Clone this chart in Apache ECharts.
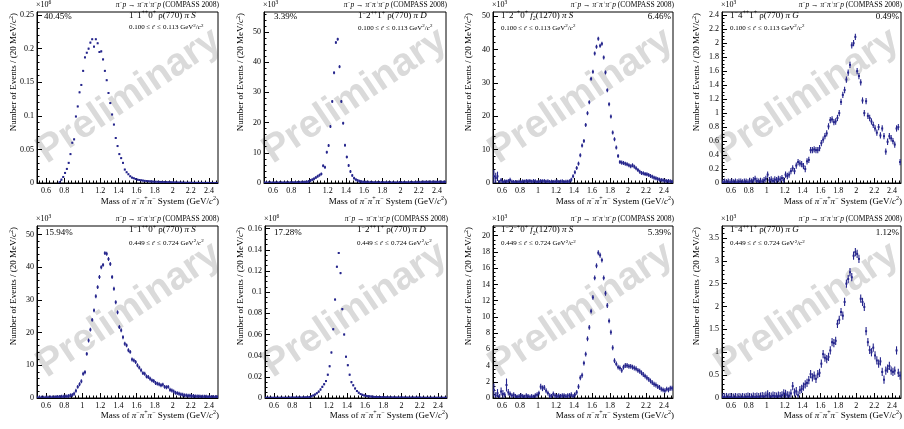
<!DOCTYPE html>
<html>
<head>
<meta charset="utf-8">
<script src="https://cdn.jsdelivr.net/npm/echarts@6/dist/echarts.min.js"></script>
<style>
  html, body { margin: 0; padding: 0; background: #fff; }
  #chart { width: 904px; height: 429px; }
</style>
</head>
<body>
<div id="chart"></div>
<script>
// 3-pion invariant mass spectra, 20 MeV bins from 0.5 to 2.5 GeV/c^2.
// Values are in units of the "x10^n" factor printed above each panel.

const massTicks = [0.6, 0.8, 1, 1.2, 1.4, 1.6, 1.8, 2, 2.2, 2.4];

// 1-1++0+ rho(770) pi S, low t' (x10^6)
const rhoS_lowT = [
  0, 0, 0, 0, 0, 0, 0, 0, 0, 0,
  0, 0, 0.001, 0.005, 0.009, 0.015, 0.021, 0.030, 0.043, 0.060,
  0.065, 0.099, 0.114, 0.135, 0.146, 0.167, 0.187, 0.194, 0.200, 0.209,
  0.214, 0.203, 0.214, 0.208, 0.195, 0.196, 0.184, 0.167, 0.153, 0.134,
  0.119, 0.102, 0.087, 0.067, 0.055, 0.043, 0.037, 0.030, 0.020, 0.016,
  0.013, 0.010, 0.008, 0.007, 0.006, 0.005, 0.0045, 0.004, 0.0036, 0.0032,
  0.0029, 0.0026, 0.0024, 0.0022, 0.002, 0.0019, 0.0018, 0.0017, 0.0016, 0.0015,
  0.0014, 0.0013, 0.0012, 0.0011, 0.001, 0.0009, 0.0008, 0.0007, 0.0006, 0.0006,
  0.0005, 0.0005, 0.0004, 0.0004, 0.0004, 0.0003, 0.0003, 0.0003, 0.0003, 0.0002,
  0.0002, 0.0002, 0.0002, 0.0002, 0.0002, 0.0001, 0.0001, 0.0001, 0.0001, 0.0001
];

// 1-2++1+ rho(770) pi D, low t' (x10^3)
const rhoD_lowT = [
  0.05, 0.05, 0.06, 0.05, 0.07, 0.06, 0.08, 0.07, 0.09, 0.08,
  0.10, 0.09, 0.11, 0.12, 0.12, 0.14, 0.15, 0.16, 0.18, 0.20,
  0.22, 0.25, 0.30, 0.35, 0.50, 0.80, 1.10, 1.40, 1.80, 2.20,
  2.60, 3.00, 5.70, 5.20, 10.2, 12.4, 18.7, 27.0, 36.5, 46.5,
  47.6, 38.5, 27.0, 19.8, 12.5, 8.6, 5.8, 3.8, 2.5, 1.6,
  1.10, 0.80, 0.60, 0.45, 0.36, 0.30, 0.26, 0.22, 0.20, 0.18,
  0.17, 0.16, 0.15, 0.15, 0.14, 0.14, 0.13, 0.13, 0.13, 0.12,
  0.12, 0.12, 0.12, 0.12, 0.13, 0.13, 0.14, 0.15, 0.16, 0.17,
  0.18, 0.19, 0.20, 0.22, 0.24, 0.26, 0.28, 0.30, 0.32, 0.33,
  0.34, 0.35, 0.35, 0.36, 0.36, 0.36, 0.35, 0.35, 0.34, 0.33
];

// 1-2-+0+ f2(1270) pi S, low t' (x10^3)
const f2S_lowT = [
  2.0, 1.5, 2.0, 0.3, 0.8, 0.3, 0.5, 0.4, 0.6, 0.9,
  0.4, 0.3, 0.3, 0.2, 0.4, 0.3, 0.5, 0.4, 0.6, 0.5,
  0.6, 0.4, 0.6, 0.5, 0.3, 0.4, 0.6, 0.5, 0.6, 0.4,
  0.5, 0.3, 0.4, 0.3, 0.4, 0.5, 0.3, 0.4, 0.5, 0.3,
  0.4, 0.4, 0.5, 1.0, 2.0, 3.2, 4.5, 5.8, 8.3, 11.2,
  12.6, 17.4, 20.9, 24.2, 31.2, 33.3, 38.8, 40.8, 43.2, 41.1,
  41.7, 37.6, 33.1, 27.8, 23.6, 19.9, 15.1, 13.1, 10.6, 8.1,
  6.3, 6.1, 6.0, 5.8, 5.6, 5.3, 5.0, 5.3, 4.9, 4.4,
  3.9, 3.4, 3.0, 2.9, 2.7, 2.6, 2.4, 2.1, 1.9, 1.6,
  1.4, 1.2, 1.0, 0.9, 0.8, 0.7, 0.6, 0.6, 0.5, 0.4
];

// 1-4++1+ rho(770) pi G, low t' (x10^3)
const rhoG_lowT = [
  0.01, 0.02, 0.01, 0.02, 0.01, 0.02, 0.01, 0.02, 0.01, 0.02,
  0.02, 0.01, 0.02, 0.02, 0.01, 0.03, 0.02, 0.04, 0.06, 0.03,
  0.02, 0.03, 0.02, 0.04, 0.06, 0.12, 0.04, 0.05, 0.03, 0.05,
  0.04, 0.06, 0.05, 0.07, 0.04, 0.12, 0.10, 0.12, 0.17, 0.21,
  0.17, 0.25, 0.30, 0.28, 0.27, 0.24, 0.20, 0.31, 0.33, 0.47,
  0.47, 0.48, 0.47, 0.47, 0.50, 0.57, 0.62, 0.67, 0.71, 0.81,
  0.90, 0.91, 0.87, 0.88, 0.93, 1.00, 1.16, 1.26, 1.33, 1.48,
  1.58, 1.69, 1.97, 2.00, 2.09, 1.60, 1.53, 1.44, 1.18, 1.00,
  1.17, 0.96, 0.93, 0.88, 0.83, 0.78, 0.72, 0.80, 0.68, 0.78,
  0.67, 0.45, 0.59, 0.67, 0.64, 0.60, 0.55, 0.78, 0.80, 0.30
];

// 1-1++0+ rho(770) pi S, high t' (x10^3)
const rhoS_highT = [
  0.05, 0.10, 0.10, 0.05, 0.10, 0.15, 0.10, 0.20, 0.20, 0.20,
  0.30, 0.30, 0.30, 0.40, 0.40, 0.50, 0.50, 0.60, 0.80, 0.90,
  1.3, 2.2, 3.4, 4.2, 5.1, 7.4, 7.9, 13.5, 17.6, 20.9,
  23.9, 26.8, 31.1, 33.9, 37.0, 40.0, 40.7, 44.3, 44.1, 42.5,
  41.0, 37.0, 33.4, 29.3, 26.2, 21.7, 20.7, 18.6, 16.6, 16.1,
  14.6, 14.1, 11.8, 11.5, 11.0, 10.0, 9.3, 8.5, 7.6, 7.4,
  6.6, 6.4, 5.9, 5.4, 5.2, 4.6, 4.4, 4.2, 3.9, 4.1,
  3.4, 3.3, 3.4, 2.5, 2.3, 2.0, 1.6, 1.5, 1.3, 1.1,
  1.0, 0.8, 0.8, 0.7, 0.7, 0.6, 0.6, 0.5, 0.5, 0.5,
  0.4, 0.4, 0.4, 0.4, 0.3, 0.3, 0.3, 0.3, 0.3, 0.3
];

// 1-2++1+ rho(770) pi D, high t' (x10^6)
const rhoD_highT = [
  0.0002, 0.0002, 0.0002, 0.0002, 0.0002, 0.0002, 0.0002, 0.0002, 0.0002, 0.0002,
  0.0002, 0.0002, 0.0002, 0.0003, 0.0003, 0.0003, 0.0003, 0.0003, 0.0004, 0.0004,
  0.0004, 0.0005, 0.0006, 0.0007, 0.0010, 0.0016, 0.0024, 0.0033, 0.0045, 0.0060,
  0.0080, 0.0105, 0.0130, 0.0160, 0.0220, 0.0300, 0.0430, 0.0650, 0.0930, 0.1240,
  0.1370, 0.1180, 0.0840, 0.0600, 0.0390, 0.0310, 0.0220, 0.0150, 0.0120, 0.0090,
  0.0066, 0.0050, 0.0038, 0.0030, 0.0024, 0.0020, 0.0017, 0.0015, 0.0013, 0.0011,
  0.0010, 0.0009, 0.0008, 0.0008, 0.0007, 0.0007, 0.0006, 0.0006, 0.0005, 0.0005,
  0.0005, 0.0005, 0.0004, 0.0004, 0.0004, 0.0004, 0.0004, 0.0003, 0.0003, 0.0003,
  0.0003, 0.0003, 0.0003, 0.0003, 0.0003, 0.0003, 0.0002, 0.0002, 0.0002, 0.0002,
  0.0002, 0.0002, 0.0002, 0.0002, 0.0002, 0.0002, 0.0002, 0.0002, 0.0002, 0.0002
];

// 1-2-+0+ f2(1270) pi S, high t' (x10^3)
const f2S_highT = [
  1.0, 0.3, 0.6, 0.2, 0.8, 0.5, 0.4, 1.6, 0.7, 0.5,
  0.3, 0.4, 0.2, 0.1, 0.2, 0.3, 0.2, 0.1, 0.3, 0.2,
  0.1, 0.2, 0.1, 0.3, 0.4, 0.6, 1.4, 1.2, 1.3, 0.9,
  0.6, 0.3, 0.2, 0.5, 0.3, 0.2, 0.3, 0.2, 0.3, 0.3,
  0.2, 0.3, 0.3, 0.4, 0.2, 0.4, 0.7, 1.4, 2.5, 2.8,
  4.3, 5.4, 7.3, 8.7, 10.7, 12.4, 14.8, 16.3, 17.9, 17.6,
  17.0, 14.8, 12.9, 11.4, 9.5, 8.1, 6.2, 4.6, 4.2, 3.8,
  3.7, 3.4, 3.8, 4.0, 4.0, 3.9, 3.9, 3.8, 3.7, 3.6,
  3.4, 3.3, 3.1, 2.9, 2.7, 2.5, 2.3, 2.1, 1.9, 1.7,
  1.6, 1.4, 1.3, 1.1, 1.0, 0.9, 1.1, 1.0, 1.2, 1.2
];

// 1-4++1+ rho(770) pi G, high t' (x10^3)
const rhoG_highT = [
  0.02, 0.01, 0.02, 0.01, 0.02, 0.01, 0.01, 0.02, 0.01, 0.02,
  0.01, 0.02, 0.01, 0.02, 0.03, 0.02, 0.01, 0.03, 0.02, 0.03,
  0.02, 0.03, 0.04, 0.03, 0.05, 0.08, 0.04, 0.03, 0.05, 0.04,
  0.03, 0.05, 0.04, 0.06, 0.10, 0.09, 0.06, 0.05, 0.10, 0.26,
  0.12, 0.15, 0.06, 0.17, 0.20, 0.25, 0.30, 0.33, 0.39, 0.52,
  0.45, 0.49, 0.42, 0.52, 0.55, 0.75, 0.96, 0.88, 0.85, 0.90,
  1.04, 1.22, 1.20, 1.25, 1.62, 1.71, 1.88, 1.80, 2.10, 2.50,
  2.60, 2.75, 2.64, 3.11, 3.19, 3.15, 3.04, 2.17, 2.10, 1.99,
  1.46, 1.22, 1.05, 1.00, 1.10, 0.93, 0.82, 0.75, 0.80, 0.57,
  0.40, 0.60, 0.64, 0.70, 0.60, 0.57, 0.60, 1.04, 0.55, 0.49
];

// Statistical uncertainty: typical half-width per panel, plus the wider bins
const typicalError = [0.0012, 0.5, 0.6, 0.045, 0.6, 0.001, 0.3, 0.09];
const f2S_lowT_wideErr = [[0.51, 2.0], [0.53, 1.6], [0.55, 1.4], [0.59, 0.7], [0.69, 0.7]];
const f2S_highT_wideErr = [[0.51, 0.8], [0.53, 0.4], [0.55, 0.5], [0.59, 0.5], [0.61, 0.5],
                           [0.65, 0.8], [0.67, 0.4], [1.03, 0.35], [1.05, 0.35], [1.07, 0.3]];

// Axis tick labels
const yTicks_rhoS_lowT = [0, 0.05, 0.1, 0.15, 0.2, 0.25];
const yTicks_rhoD_lowT = [0, 10, 20, 30, 40, 50];
const yTicks_f2S_lowT = [0, 10, 20, 30, 40, 50];
const yTicks_rhoG_lowT = [0, 0.2, 0.4, 0.6, 0.8, 1, 1.2, 1.4, 1.6, 1.8, 2, 2.2, 2.4];
const yTicks_rhoS_highT = [0, 10, 20, 30, 40, 50];
const yTicks_rhoD_highT = [0, 0.02, 0.04, 0.06, 0.08, 0.1, 0.12, 0.14, 0.16];
const yTicks_f2S_highT = [0, 2, 4, 6, 8, 10, 12, 14, 16, 18, 20];
const yTicks_rhoG_highT = [0, 0.5, 1, 1.5, 2, 2.5, 3, 3.5];

// Fit fractions
const shares = ['40.45%', '3.39%', '6.46%', '0.49%', '15.94%', '17.28%', '5.39%', '1.12%'];

// Bin centres of the 20 MeV histogram binning
const binCenters = Array.from({ length: 100 }, (_, i) => Math.round((0.51 + 0.02 * i) * 100) / 100);

const FONT = '"Liberation Serif", "Times New Roman", "DejaVu Serif", serif';
const INK = '#000';
const MARK = '#25258c';

const WAVE_RHO_S = '{r|1}{s|−}{r|1}{s|++}{r|0}{s|+}{r| ρ(770) }{i|π S}';
const WAVE_RHO_D = '{r|1}{s|−}{r|2}{s|++}{r|1}{s|+}{r| ρ(770) }{i|π D}';
const WAVE_F2_S = '{r|1}{s|−}{r|2}{s|−+}{r|0}{s|+}{r| }{i|f}{u|2}{r|(1270) }{i|π S}';
const WAVE_RHO_G = '{r|1}{s|−}{r|4}{s|++}{r|1}{s|+}{r| ρ(770) }{i|π G}';
const T_LOW = '{r|0.100 ≤ }{i|t}{r|′ ≤ 0.113 GeV}{s|2}{r|/}{i|c}{s|2}';
const T_HIGH = '{r|0.449 ≤ }{i|t}{r|′ ≤ 0.724 GeV}{s|2}{r|/}{i|c}{s|2}';
const REACTION = '{i|π}{s|−}{i|p}{r| → }{i|π}{s|−}{i|π}{s|+}{i|π}{s|−}{i|p}{r| (COMPASS 2008)}';
const X_TITLE = '{r|Mass of }{i|π}{s|−}{i|π}{s|+}{i|π}{s|−}{r| System (GeV/}{i|c}{s|2}{r|)}';
const Y_TITLE = '{r|Number of Events / (20 MeV/}{i|c}{s|2}{r|)}';

// Panel layout: pixel frame [left, top, width, height] and label placement (panel-local)
const panels = [
  { counts: rhoS_lowT, yTicks: yTicks_rhoS_lowT, yMax: 0.2546, ySub: 5, exp: '6', wide: [],
    wave: WAVE_RHO_S, t: T_LOW, ox: 0, oy: 0, frame: [37, 12, 181, 171], yTitleX: 14,
    sharePos: [44, 17, 'left'], wavePos: [129, 15.5], tPos: [129, 27.5] },
  { counts: rhoD_lowT, yTicks: yTicks_rhoD_lowT, yMax: 56.6, ySub: 5, exp: '3', wide: [],
    wave: WAVE_RHO_D, t: T_LOW, ox: 226, oy: 0, frame: [264, 12, 182, 171], yTitleX: 15,
    sharePos: [48, 17, 'left'], wavePos: [132, 16], tPos: [132, 28] },
  { counts: f2S_lowT, yTicks: yTicks_f2S_lowT, yMax: 51.2, ySub: 5, exp: '3', wide: f2S_lowT_wideErr,
    wave: WAVE_F2_S, t: T_LOW, ox: 452, oy: 0, frame: [493, 12, 180, 171], yTitleX: 17,
    sharePos: [219, 16.5, 'right'], wavePos: [49, 15.5], tPos: [49, 28] },
  { counts: rhoG_lowT, yTicks: yTicks_rhoG_lowT, yMax: 2.446, ySub: 4, exp: '3', wide: [],
    wave: WAVE_RHO_G, t: T_LOW, ox: 678, oy: 0, frame: [722, 12, 179, 171], yTitleX: 19,
    sharePos: [221, 16.5, 'right'], wavePos: [52, 15.5], tPos: [52, 28] },
  { counts: rhoS_highT, yTicks: yTicks_rhoS_highT, yMax: 52.6, ySub: 5, exp: '3', wide: [],
    wave: WAVE_RHO_S, t: T_HIGH, ox: 0, oy: 214, frame: [37, 226, 181, 172], yTitleX: 14,
    sharePos: [45, 19, 'left'], wavePos: [129, 16], tPos: [129, 29] },
  { counts: rhoD_highT, yTicks: yTicks_rhoD_highT, yMax: 0.1625, ySub: 4, exp: '6', wide: [],
    wave: WAVE_RHO_D, t: T_HIGH, ox: 226, oy: 214, frame: [265, 226, 182, 172], yTitleX: 15,
    sharePos: [48, 19, 'left'], wavePos: [131, 16], tPos: [131, 29] },
  { counts: f2S_highT, yTicks: yTicks_f2S_highT, yMax: 21.2, ySub: 4, exp: '3', wide: f2S_highT_wideErr,
    wave: WAVE_F2_S, t: T_HIGH, ox: 452, oy: 214, frame: [493, 226, 180, 172], yTitleX: 17,
    sharePos: [219, 19, 'right'], wavePos: [49, 16], tPos: [49, 29.5] },
  { counts: rhoG_highT, yTicks: yTicks_rhoG_highT, yMax: 3.76, ySub: 5, exp: '3', wide: [],
    wave: WAVE_RHO_G, t: T_HIGH, ox: 678, oy: 214, frame: [722, 226, 179, 172], yTitleX: 19,
    sharePos: [221, 19, 'right'], wavePos: [52, 16], tPos: [52, 29.5] }
];

function richSet(size) {
  const lh = Math.round(size * 1.35);
  const small = Math.max(5, Math.round(size * 0.68 * 2) / 2);
  return {
    r: { fontFamily: FONT, fontSize: size, lineHeight: lh, fill: INK },
    i: { fontFamily: FONT, fontSize: size, fontStyle: 'italic', lineHeight: lh, fill: INK },
    s: { fontFamily: FONT, fontSize: small, lineHeight: small, verticalAlign: 'top', fill: INK },
    u: { fontFamily: FONT, fontSize: small, lineHeight: small, verticalAlign: 'bottom', fill: INK }
  };
}

function label(x, y, text, size, align, extra) {
  return Object.assign({
    type: 'text', x: x, y: y, silent: true, z: 10,
    style: {
      text: text, rich: richSet(size), fill: INK,
      fontFamily: FONT, fontSize: size,
      align: align, textAlign: align,
      verticalAlign: 'middle', textVerticalAlign: 'middle'
    }
  }, extra || {});
}

// Minor tick positions between (and beyond) the labelled ticks
function subTicks(major, sub, lo, hi) {
  const step = (major[1] - major[0]) / sub;
  const out = [];
  const k0 = Math.ceil((lo - major[0]) / step - 1e-6);
  const k1 = Math.floor((hi - major[0]) / step + 1e-6);
  for (let k = k0; k <= k1; k++) {
    if (((k % sub) + sub) % sub === 0) continue;
    out.push(Math.round((major[0] + k * step) * 1e6) / 1e6);
  }
  return out;
}

function fmt(v) { return String(Math.round(v * 1e6) / 1e6); }

function renderPoint(params, api) {
  const v = api.value(1);
  if (!(v > 0)) return null;
  const m = api.value(0);
  const e = api.value(2);
  const c = api.coord([m, v]);
  const hi = api.coord([m, v + e]);
  const lo = api.coord([m, Math.max(v - e, 0)]);
  return {
    type: 'group',
    children: [
      { type: 'line', shape: { x1: c[0], y1: hi[1], x2: c[0], y2: lo[1] },
        style: { stroke: MARK, lineWidth: 1.1 } },
      { type: 'rect', shape: { x: c[0] - 1, y: c[1] - 1, width: 2, height: 2 },
        style: { fill: MARK } }
    ]
  };
}

const grid = [], xAxis = [], yAxis = [], series = [], elements = [];
const massMinor = subTicks(massTicks, 5, 0.5, 2.5);

panels.forEach((p, k) => {
  const [gl, gt, gw, gh] = p.frame;
  grid.push({ left: gl, top: gt, width: gw, height: gh, show: true, borderColor: INK, borderWidth: 1,
              backgroundColor: 'transparent', containLabel: false, outerBoundsMode: 'none' });

  const tickFont = { fontFamily: FONT, fontSize: 8, color: INK };
  xAxis.push({
    type: 'value', gridIndex: k, min: 0.5, max: 2.5, position: 'bottom',
    axisLine: { show: true, onZero: false, lineStyle: { color: INK, width: 1 } },
    axisTick: { show: true, inside: true, length: 5, customValues: massTicks, lineStyle: { color: INK, width: 1 } },
    axisLabel: Object.assign({ show: true, customValues: massTicks, margin: 4, formatter: fmt }, tickFont),
    splitLine: { show: false }
  });
  xAxis.push({
    type: 'value', gridIndex: k, min: 0.5, max: 2.5, position: 'bottom',
    axisLine: { show: false, onZero: false },
    axisTick: { show: true, inside: true, length: 2.5, customValues: massMinor, lineStyle: { color: INK, width: 1 } },
    axisLabel: { show: false },
    splitLine: { show: false }
  });
  yAxis.push({
    type: 'value', gridIndex: k, min: 0, max: p.yMax, position: 'left',
    axisLine: { show: true, onZero: false, lineStyle: { color: INK, width: 1 } },
    axisTick: { show: true, inside: true, length: 5, customValues: p.yTicks, lineStyle: { color: INK, width: 1 } },
    axisLabel: Object.assign({ show: true, customValues: p.yTicks, margin: 3, formatter: fmt }, tickFont),
    splitLine: { show: false }
  });
  yAxis.push({
    type: 'value', gridIndex: k, min: 0, max: p.yMax, position: 'left',
    axisLine: { show: false, onZero: false },
    axisTick: { show: true, inside: true, length: 2.5, customValues: subTicks(p.yTicks, p.ySub, 0, p.yMax),
                lineStyle: { color: INK, width: 1 } },
    axisLabel: { show: false },
    splitLine: { show: false }
  });

  const wideMap = new Map(p.wide.map(([m, e]) => [m, e]));
  series.push({
    type: 'custom', xAxisIndex: 2 * k, yAxisIndex: 2 * k, clip: true, z: 5,
    renderItem: renderPoint,
    encode: { x: 0, y: 1 },
    data: binCenters.map((m, i) => [m, p.counts[i], wideMap.has(m) ? wideMap.get(m) : typicalError[k]])
  });

  const ox = p.ox, oy = p.oy;
  const right = gl + gw;
  // Watermark
  elements.push({
    type: 'text', x: ox + 129, y: oy + 96, rotation: 0.59, silent: true, z: -1,
    style: {
      text: 'Preliminary', fill: '#dadada',
      font: 'bold 39px "Liberation Sans", Arial, sans-serif',
      align: 'center', textAlign: 'center', verticalAlign: 'middle', textVerticalAlign: 'middle'
    }
  });
  // Header line and exponent
  elements.push(label(gl - 1, oy + 5, '{r|×10}{s|' + p.exp + '}', 8, 'left'));
  elements.push(label(right + 1, oy + 5.5, REACTION, 7.5, 'right'));
  // Wave labels and fit fraction
  elements.push(label(ox + p.wavePos[0], oy + p.wavePos[1], p.wave, 9, 'left'));
  elements.push(label(ox + p.tPos[0], oy + p.tPos[1], p.t, 7, 'left'));
  elements.push(label(ox + p.sharePos[0], oy + p.sharePos[1], '{r|' + shares[k] + '}', 9, p.sharePos[2]));
  // Axis titles
  elements.push(label(right + 1, oy + 201.5, X_TITLE, 9, 'right'));
  elements.push(label(ox + p.yTitleX, oy + 13, Y_TITLE, 9, 'right', { rotation: Math.PI / 2 }));
});

const chart = echarts.init(document.getElementById('chart'), null, { renderer: 'canvas' });
chart.setOption({
  animation: false,
  backgroundColor: '#fff',
  grid: grid,
  xAxis: xAxis,
  yAxis: yAxis,
  series: series,
  graphic: { elements: elements }
});
</script>
</body>
</html>
